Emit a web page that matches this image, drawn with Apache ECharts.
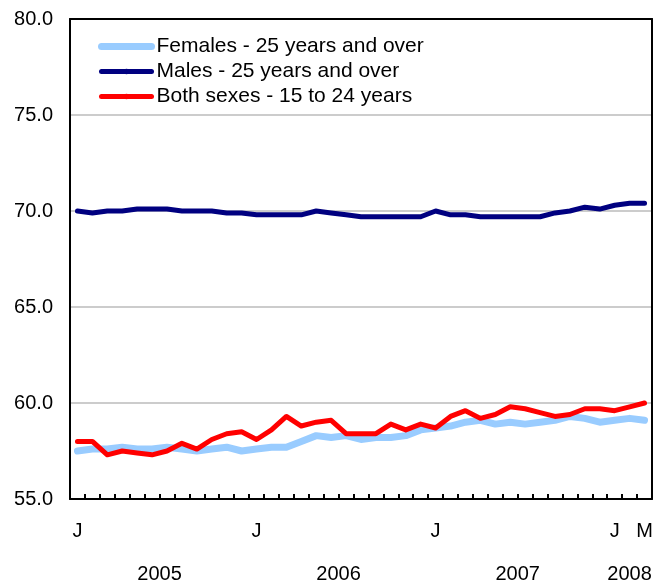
<!DOCTYPE html>
<html>
<head>
<meta charset="utf-8">
<script src="https://cdn.jsdelivr.net/npm/echarts@6/dist/echarts.min.js"></script>
<style>
html,body{margin:0;padding:0;background:#fff;}
#chart{width:656px;height:584px;}
</style>
</head>
<body>
<div id="chart"></div>
<script>
const months = [
  'Jan 2005','Feb 2005','Mar 2005','Apr 2005','May 2005','Jun 2005','Jul 2005','Aug 2005','Sep 2005','Oct 2005','Nov 2005','Dec 2005',
  'Jan 2006','Feb 2006','Mar 2006','Apr 2006','May 2006','Jun 2006','Jul 2006','Aug 2006','Sep 2006','Oct 2006','Nov 2006','Dec 2006',
  'Jan 2007','Feb 2007','Mar 2007','Apr 2007','May 2007','Jun 2007','Jul 2007','Aug 2007','Sep 2007','Oct 2007','Nov 2007','Dec 2007',
  'Jan 2008','Feb 2008','Mar 2008'
];
const monthTickLabels = {0:'J', 12:'J', 24:'J', 36:'J', 38:'M'};
const yearLabelPositions = [5.5, 17.5, 29.5, 37];
const yearLabels = ['2005', '2006', '2007', '2008'];

const females = [57.5, 57.6, 57.6, 57.7, 57.6, 57.6, 57.7, 57.6, 57.5, 57.6, 57.7, 57.5, 57.6,
  57.7, 57.7, 58.0, 58.3, 58.2, 58.3, 58.1, 58.2, 58.2, 58.3, 58.6, 58.7,
  58.8, 59.0, 59.1, 58.9, 59.0, 58.9, 59.0, 59.1, 59.3, 59.2, 59.0, 59.1, 59.2, 59.1];
const males = [70.0, 69.9, 70.0, 70.0, 70.1, 70.1, 70.1, 70.0, 70.0, 70.0, 69.9, 69.9, 69.8,
  69.8, 69.8, 69.8, 70.0, 69.9, 69.8, 69.7, 69.7, 69.7, 69.7, 69.7, 70.0,
  69.8, 69.8, 69.7, 69.7, 69.7, 69.7, 69.7, 69.9, 70.0, 70.2, 70.1, 70.3, 70.4, 70.4];
const youth = [58.0, 58.0, 57.3, 57.5, 57.4, 57.3, 57.5, 57.9, 57.6, 58.1, 58.4, 58.5, 58.1,
  58.6, 59.3, 58.8, 59.0, 59.1, 58.4, 58.4, 58.4, 58.9, 58.6, 58.9, 58.7,
  59.3, 59.6, 59.2, 59.4, 59.8, 59.7, 59.5, 59.3, 59.4, 59.7, 59.7, 59.6, 59.8, 60.0];

const seriesNames = ['Females - 25 years and over', 'Males - 25 years and over', 'Both sexes - 15 to 24 years'];
const seriesColors = ['#99CCFF', '#000080', '#FF0000'];
const seriesWidths = [7, 5, 5];
const seriesData = [females, males, youth];

const FONT = 'Liberation Sans, Arial, Helvetica, sans-serif';
const chart = echarts.init(document.getElementById('chart'), null, {renderer: 'canvas'});

const frameLine = {show: true, onZero: false, lineStyle: {color: '#000', width: 2}};

chart.setOption({
  animation: false,
  backgroundColor: '#fff',
  grid: {left: 70, right: 4, top: 19, bottom: 85},
  legend: {
    orient: 'vertical', left: 93, top: 31, itemWidth: 50, itemHeight: 7, itemGap: 4,
    textStyle: {fontFamily: FONT, fontSize: 21, color: '#000'},
    data: seriesNames.map((n, i) => ({name: n, lineStyle: {width: seriesWidths[i], cap: 'round'}, itemStyle: {color: seriesColors[i]}}))
  },
  xAxis: [{
    type: 'category', data: months, boundaryGap: true, position: 'bottom',
    axisLine: frameLine,
    axisTick: {show: true, inside: true, length: 5, interval: 0, lineStyle: {color: '#000', width: 2}},
    axisLabel: {interval: 0, margin: 22, fontFamily: FONT, fontSize: 20, color: '#000',
      formatter: (v, i) => monthTickLabels[i] || ''},
    splitLine: {show: false}
  }, {
    type: 'value', min: -0.5, max: 38.5, position: 'bottom',
    axisLine: {show: false}, axisTick: {show: false}, splitLine: {show: false},
    axisLabel: {margin: 65, fontFamily: FONT, fontSize: 20, color: '#000',
      customValues: yearLabelPositions,
      formatter: (v) => { const k = yearLabelPositions.indexOf(v); return k >= 0 ? yearLabels[k] : ''; }}
  }, {
    type: 'category', data: months, position: 'top',
    axisLine: frameLine, axisTick: {show: false}, axisLabel: {show: false}, splitLine: {show: false}
  }],
  yAxis: [{
    type: 'value', min: 55, max: 80, interval: 5, position: 'left',
    axisLine: frameLine,
    axisTick: {show: false},
    axisLabel: {margin: 17, fontFamily: FONT, fontSize: 20, color: '#000', formatter: v => v.toFixed(1)},
    splitLine: {show: true, lineStyle: {color: '#cccccc', width: 2}}
  }, {
    type: 'value', min: 55, max: 80, interval: 5, position: 'right',
    axisLine: frameLine, axisTick: {show: false}, axisLabel: {show: false}, splitLine: {show: false}
  }],
  series: seriesData.map((d, i) => ({
    name: seriesNames[i], type: 'line', data: d, xAxisIndex: 0, yAxisIndex: 0,
    symbol: 'none', smooth: false,
    lineStyle: {color: seriesColors[i], width: seriesWidths[i], cap: 'round', join: 'round'},
    itemStyle: {color: seriesColors[i]},
    z: 2 + i
  }))
});
</script>
</body>
</html>
